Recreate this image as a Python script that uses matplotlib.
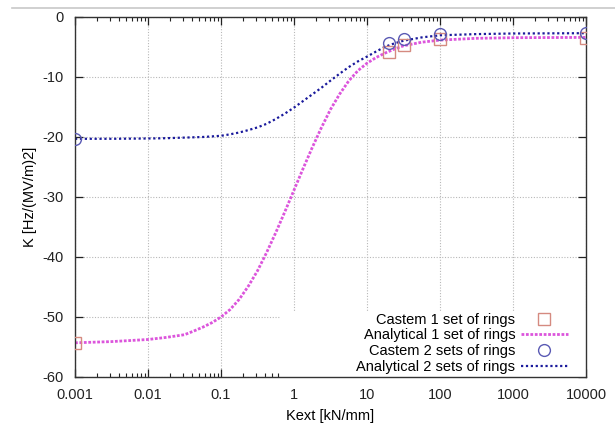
import matplotlib
matplotlib.use("Agg")
import matplotlib.pyplot as plt
import numpy as np
from matplotlib.patches import Rectangle
from matplotlib.lines import Line2D

plt.rcParams['font.family'] = ['Liberation Sans', 'DejaVu Sans']
plt.rcParams['font.size'] = 10.5
plt.rcParams['axes.unicode_minus'] = False

# Castem points
kext_castem = [0.001, 20, 32, 100, 10000]
k_castem_1 = [-54.3, -5.8, -4.6, -3.7, -3.5]
k_castem_2 = [-20.3, -4.3, -3.6, -2.9, -2.7]

# analytical curves at log10(Kext) positions
log_kext_curve = [-3, -2.5, -2, -1.75, -1.5, -1.375, -1.25, -1.125, -1, -0.875,
                  -0.75, -0.625, -0.5, -0.375, -0.25, -0.125, 0, 0.125, 0.25, 0.375,
                  0.5, 0.625, 0.75, 0.875, 1, 1.125, 1.25, 1.375, 1.5, 1.75,
                  2, 2.5, 3, 4]
k_analytic_1 = [-54.3, -54.1, -53.75, -53.4, -52.95, -52.35, -51.7, -50.95, -50.0, -48.75,
                -47.05, -44.85, -42.3, -39.25, -35.95, -32.45, -28.85, -25.25, -21.75, -18.45,
                -15.4, -12.85, -10.65, -8.95, -7.7, -6.75, -6.0, -5.35, -4.8, -4.2,
                -3.85, -3.55, -3.45, -3.4]
k_analytic_2 = [-20.3, -20.3, -20.25, -20.2, -20.1, -20.05, -20.0, -19.9, -19.8, -19.55,
                -19.25, -18.85, -18.4, -17.8, -17.0, -16.1, -15.1, -14.0, -12.9, -11.8,
                -10.6, -9.45, -8.35, -7.4, -6.6, -5.75, -4.95, -4.4, -3.95, -3.4,
                -3.05, -2.85, -2.75, -2.7]
kext_curve = [10 ** v for v in log_kext_curve]

fig = plt.figure(figsize=(6.15, 4.24), dpi=100)
ax = fig.add_axes([75 / 615, 47 / 424, 511 / 615, 360 / 424])

# grey screenshot line at the top
fig.add_artist(Line2D([12 / 615, 1], [1 - 8 / 424, 1 - 8 / 424], color='#c8c8c8', lw=1.2,
                      transform=fig.transFigure))

ax.set_xscale('log')
ax.set_xlim(0.001, 10000)
ax.set_ylim(-60, 0)
ax.set_axisbelow(True)
ax.grid(True, which='major', color='#b8b8b8', linestyle=(0, (1, 1.5)), linewidth=0.8)

# key box hides the grid behind it
ax.add_patch(Rectangle((0.401, 0), 0.599, 0.18, transform=ax.transAxes,
                       facecolor='white', edgecolor='none', zorder=1))

ax.plot(kext_castem, k_castem_1, 's', mfc='none', mec='#d58a80', ms=8.5, mew=1.0,
        label='Castem 1 set of rings', zorder=3)
ax.plot(kext_curve, k_analytic_1, color='#dc55dc', lw=2.0, linestyle=(0, (1, 0.6)),
        label='Analytical 1 set of rings', zorder=2)
ax.plot(kext_castem, k_castem_2, 'o', mfc='none', mec='#5a5ab4', ms=8.5, mew=1.0,
        label='Castem 2 sets of rings', zorder=3)
ax.plot(kext_curve, k_analytic_2, color='#1a1a9c', lw=1.6, linestyle=(0, (1, 1.2)),
        label='Analytical 2 sets of rings', zorder=2)

ax.set_xticks([0.001, 0.01, 0.1, 1, 10, 100, 1000, 10000])
ax.set_xticklabels(['0.001', '0.01', '0.1', '1', '10', '100', '1000', '10000'])
ax.set_yticks(np.arange(-60, 1, 10))
ax.tick_params(which='both', direction='in', top=True, right=True, labelsize=10.5,
               colors='#222222')
ax.tick_params(which='major', length=6, width=0.9)
ax.tick_params(which='minor', length=3, width=0.8)
ax.tick_params(axis='x', pad=8)
ax.tick_params(axis='y', pad=8)
for s in ax.spines.values():
    s.set_linewidth(1.0)
    s.set_color('#333333')

ax.set_xlabel('Kext [kN/mm]', fontsize=10.5, labelpad=5)
ax.set_ylabel('K [Hz/(MV/m)2]', fontsize=10.5, labelpad=4)

ax.legend(loc='lower right', bbox_to_anchor=(0.99, -0.028), markerfirst=False, frameon=False,
          fontsize=10.5, handlelength=3.2, handletextpad=0.4, labelspacing=0.12,
          borderpad=0.4)

fig.savefig('out.png', dpi=100)
